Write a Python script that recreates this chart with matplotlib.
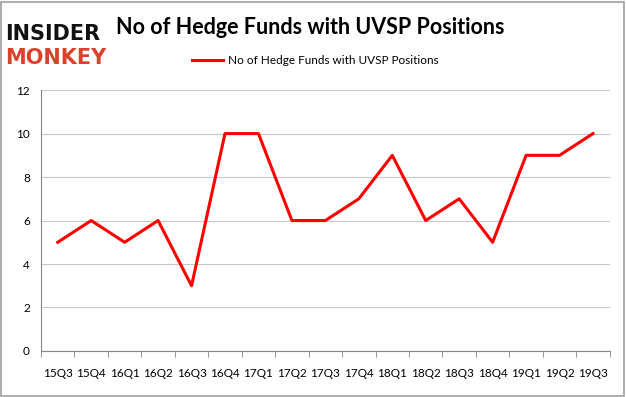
import matplotlib.pyplot as plt
import numpy as np
from matplotlib.patches import Rectangle

quarters = ['15Q3', '15Q4', '16Q1', '16Q2', '16Q3', '16Q4', '17Q1', '17Q2', '17Q3',
            '17Q4', '18Q1', '18Q2', '18Q3', '18Q4', '19Q1', '19Q2', '19Q3']
funds = [5, 6, 5, 6, 3, 10, 10, 6, 6, 7, 9, 6, 7, 5, 9, 9, 10]
series_name = 'No of Hedge Funds with UVSP Positions'
yticks = [0, 2, 4, 6, 8, 10, 12]

plt.rcParams['font.family'] = ['Lato', 'DejaVu Sans']

fig = plt.figure(figsize=(6.26, 3.97), dpi=100)
fig.patch.set_facecolor('white')
fig.patches.append(Rectangle((0.002, 0.003), 0.995, 0.993, transform=fig.transFigure,
                             fill=False, edgecolor='#a0a0a0', linewidth=1.2))

ax = fig.add_axes([0.0655, 0.116, 0.9085, 0.657])
x = np.arange(len(quarters))
ax.plot(x, funds, color='#ff0000', linewidth=2.2, label=series_name)

ax.set_xlim(-0.5, len(quarters) - 0.5)
ax.set_ylim(0, 12)
ax.set_yticks(yticks)
ax.yaxis.grid(True, color='#c8c8c8', linewidth=0.8)
ax.set_axisbelow(True)

ax.set_xticks(x)
ax.set_xticklabels(quarters, fontsize=8.5)
ax.set_xticks(np.arange(-0.5, len(quarters)), minor=True)
ax.tick_params(axis='x', which='major', length=0, pad=12)
ax.tick_params(axis='x', which='minor', length=4, color='#888888')
ax.tick_params(axis='y', length=0, labelsize=8.5, pad=8)

for side in ['top', 'right']:
    ax.spines[side].set_visible(False)
ax.spines['left'].set_color('#888888')
ax.spines['bottom'].set_color('#888888')

ax.legend(loc='lower center', bbox_to_anchor=(0.482, 1.05), frameon=False, fontsize=8.5,
          handlelength=2.6, handletextpad=0.4)

# logo and title
fig.text(0.008, 0.9, 'INSIDER', fontsize=15, fontweight='heavy', color='#111111',
         family='DejaVu Sans')
fig.text(0.008, 0.84, 'MONKEY', fontsize=15, fontweight='heavy', color='#d9432b',
         family='DejaVu Sans')
fig.text(0.185, 0.905, series_name, fontsize=15.5, fontweight='bold', color='black',
         va='bottom', ha='left')

fig.savefig('out.png', dpi=100)
